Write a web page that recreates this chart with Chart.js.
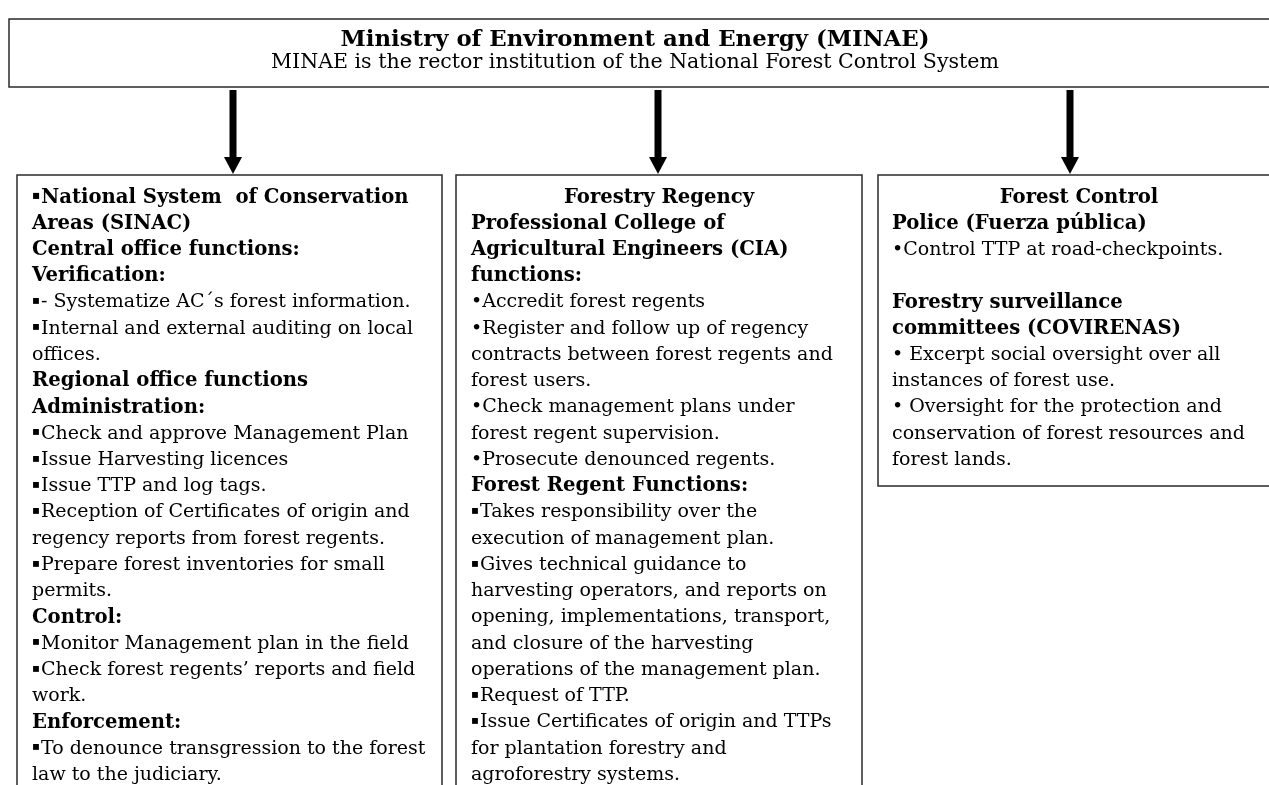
<!DOCTYPE html>
<html>
<head>
<meta charset="utf-8">
<script src="https://cdn.jsdelivr.net/npm/chart.js@4/dist/chart.umd.min.js"></script>
<style>
  html, body { margin: 0; padding: 0; background: #ffffff; }
  #c { display: block; }
</style>
</head>
<body>
<canvas id="c" width="1269" height="785"></canvas>
<script>
// ---------- content ----------
const topTitle = "Ministry of Environment and Energy (MINAE)";
const topSubtitle = "MINAE is the rector institution of the National Forest Control System";

// kind: "H" bold heading, "C" centered bold heading, "B" body text, "" empty line
const sinacLines = [
  ["H", "\u25AANational System  of Conservation"],
  ["H", "Areas (SINAC)"],
  ["H", "Central office functions:"],
  ["H", "Verification:"],
  ["B", "\u25AA- Systematize AC\u00B4s forest information."],
  ["B", "\u25AAInternal and external auditing on local"],
  ["B", "offices."],
  ["H", "Regional office functions"],
  ["H", "Administration:"],
  ["B", "\u25AACheck and approve Management Plan"],
  ["B", "\u25AAIssue Harvesting licences"],
  ["B", "\u25AAIssue TTP and log tags."],
  ["B", "\u25AAReception of Certificates of origin and"],
  ["B", "regency reports from forest regents."],
  ["B", "\u25AAPrepare forest inventories for small"],
  ["B", "permits."],
  ["H", "Control:"],
  ["B", "\u25AAMonitor Management plan in the field"],
  ["B", "\u25AACheck forest regents\u2019 reports and field"],
  ["B", "work."],
  ["H", "Enforcement:"],
  ["B", "\u25AATo denounce transgression to the forest"],
  ["B", "law to the judiciary."]
];

const regencyLines = [
  ["C", "Forestry Regency"],
  ["H", "Professional College of"],
  ["H", "Agricultural Engineers (CIA)"],
  ["H", "functions:"],
  ["B", "\u2022Accredit forest regents"],
  ["B", "\u2022Register and follow up of regency"],
  ["B", "contracts between forest regents and"],
  ["B", "forest users."],
  ["B", "\u2022Check management plans under"],
  ["B", "forest regent supervision."],
  ["B", "\u2022Prosecute denounced regents."],
  ["H", "Forest Regent Functions:"],
  ["B", "\u25AATakes responsibility over the"],
  ["B", "execution of management plan."],
  ["B", "\u25AAGives technical guidance to"],
  ["B", "harvesting operators, and reports on"],
  ["B", "opening, implementations, transport,"],
  ["B", "and closure of the harvesting"],
  ["B", "operations of the management plan."],
  ["B", "\u25AARequest of TTP."],
  ["B", "\u25AAIssue Certificates of origin and TTPs"],
  ["B", "for plantation forestry and"],
  ["B", "agroforestry systems."]
];

const controlLines = [
  ["C", "Forest Control"],
  ["H", "Police (Fuerza p\u00FAblica)"],
  ["B", "\u2022Control TTP at road-checkpoints."],
  ["", ""],
  ["H", "Forestry surveillance"],
  ["H", "committees (COVIRENAS)"],
  ["B", "\u2022 Excerpt social oversight over all"],
  ["B", "instances of forest use."],
  ["B", "\u2022 Oversight for the protection and"],
  ["B", "conservation of forest resources and"],
  ["B", "forest lands."]
];

// ---------- layout (positions in scale units) ----------
const layout = {
  top: { x0: 9, x1: 1285, y0: 19, y1: 87, titleY: 40, subY: 63 },
  arrows: { xs: [233, 658, 1070], y0: 90, y1: 174, shaft: 7, headW: 18, headH: 17 },
  boxes: [
    { x0: 17,  x1: 442,  y0: 175, y1: 800, pad: 15, lines: sinacLines },
    { x0: 456, x1: 862,  y0: 175, y1: 800, pad: 15, lines: regencyLines },
    { x0: 878, x1: 1280, y0: 175, y1: 486, pad: 14, lines: controlLines }
  ],
  firstLineY: 197.5,
  lineStep: 26.25
};

const FONT = '"DejaVu Serif", "Liberation Serif", serif';
const SQUARE = "\u25AA";

function fitSize(ctx, weight, text, target) {
  ctx.font = weight + ' 20px ' + FONT;
  return 20 * target / ctx.measureText(text).width;
}

const diagramPlugin = {
  id: 'diagram',
  afterDraw(chart) {
    const ctx = chart.ctx;
    const sx = chart.scales.x, sy = chart.scales.y;
    const X = v => sx.getPixelForValue(v);
    const Y = v => sy.getPixelForValue(v);

    const bodySize = fitSize(ctx, 'normal', "Internal and external auditing on local", 372);
    const headSize = fitSize(ctx, 'bold', "Central office functions:", 268);
    const titleSize = fitSize(ctx, 'bold', topTitle, 589);
    const subSize = fitSize(ctx, 'normal', topSubtitle, 728);

    ctx.save();
    ctx.strokeStyle = '#2a2a2a';
    ctx.lineWidth = 1.5;

    // top box
    const t = layout.top;
    ctx.strokeRect(X(t.x0), Y(t.y0), X(t.x1) - X(t.x0), Y(t.y1) - Y(t.y0));
    ctx.fillStyle = '#000';
    ctx.textBaseline = 'middle';
    ctx.textAlign = 'center';
    const cx = (X(8) + X(1262)) / 2;
    ctx.font = 'bold ' + titleSize.toFixed(2) + 'px ' + FONT;
    ctx.fillText(topTitle, cx, Y(t.titleY));
    ctx.font = 'normal ' + subSize.toFixed(2) + 'px ' + FONT;
    ctx.fillText(topSubtitle, cx, Y(t.subY));

    // arrows
    const a = layout.arrows;
    a.xs.forEach(ax => {
      const x = X(ax);
      ctx.fillStyle = '#000';
      ctx.fillRect(x - a.shaft / 2, Y(a.y0), a.shaft, Y(a.y1 - a.headH) - Y(a.y0) + 1);
      ctx.beginPath();
      ctx.moveTo(x - a.headW / 2, Y(a.y1 - a.headH));
      ctx.lineTo(x + a.headW / 2, Y(a.y1 - a.headH));
      ctx.lineTo(x, Y(a.y1));
      ctx.closePath();
      ctx.fill();
    });

    // boxes
    layout.boxes.forEach(b => {
      ctx.strokeRect(X(b.x0), Y(b.y0), X(b.x1) - X(b.x0), Y(b.y1) - Y(b.y0));
      b.lines.forEach((ln, i) => {
        const kind = ln[0];
        let text = ln[1];
        if (!text) return;
        const y = Y(layout.firstLineY + i * layout.lineStep);
        const weight = kind === 'B' ? 'normal' : 'bold';
        const size = kind === 'B' ? bodySize : headSize;
        ctx.font = weight + ' ' + size.toFixed(2) + 'px ' + FONT;
        if (kind === 'C') {
          ctx.textAlign = 'center';
          ctx.fillText(text, (X(b.x0) + X(b.x1)) / 2, y);
          return;
        }
        ctx.textAlign = 'left';
        let x = X(b.x0 + b.pad);
        if (text.startsWith(SQUARE)) {
          // the square bullet is smaller in the original
          ctx.font = weight + ' ' + (size * 0.62).toFixed(2) + 'px ' + FONT;
          ctx.fillText(SQUARE, x, y - size * 0.08);
          x += ctx.measureText(SQUARE).width + 1;
          ctx.font = weight + ' ' + size.toFixed(2) + 'px ' + FONT;
          text = text.slice(1);
        }
        ctx.fillText(text, x, y);
      });
    });
    ctx.restore();
  }
};

new Chart(document.getElementById('c'), {
  type: 'scatter',
  data: { datasets: [{ data: [], pointRadius: 0 }] },
  options: {
    responsive: false,
    animation: false,
    devicePixelRatio: 1,
    layout: { padding: 0 },
    plugins: { legend: { display: false }, tooltip: { enabled: false } },
    scales: {
      x: { type: 'linear', min: 0, max: 1269, display: false },
      y: { type: 'linear', min: 0, max: 785, reverse: true, display: false }
    }
  },
  plugins: [diagramPlugin]
});
</script>
</body>
</html>
